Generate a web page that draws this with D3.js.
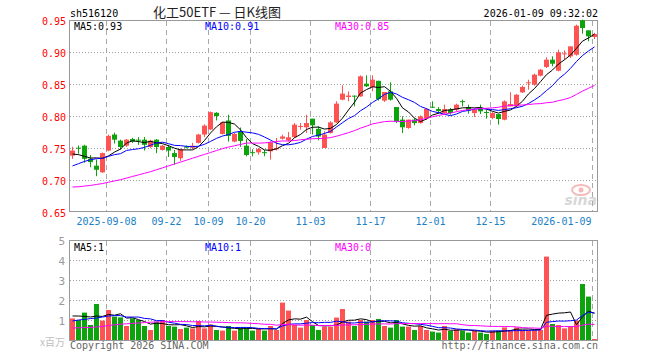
<!DOCTYPE html>
<html>
<head>
<meta charset="utf-8">
<script src="https://cdn.jsdelivr.net/npm/d3@7"></script>
<style>
  body { margin: 0; background: #fff; }
  text { font-family: "DejaVu Sans Mono", monospace; font-size: 10px; }
</style>
</head>
<body>
<div id="wrapper"></div>
<script>
// trading days shown
const dates = [
  "2025-08-29",
  "2025-09-01","2025-09-02","2025-09-03","2025-09-04","2025-09-05",
  "2025-09-08","2025-09-09","2025-09-10","2025-09-11","2025-09-12",
  "2025-09-15","2025-09-16","2025-09-17","2025-09-18","2025-09-19",
  "2025-09-22","2025-09-23","2025-09-24","2025-09-25","2025-09-26",
  "2025-09-29","2025-09-30",
  "2025-10-09","2025-10-10",
  "2025-10-13","2025-10-14","2025-10-15","2025-10-16","2025-10-17",
  "2025-10-20","2025-10-21","2025-10-22","2025-10-23","2025-10-24",
  "2025-10-27","2025-10-28","2025-10-29","2025-10-30","2025-10-31",
  "2025-11-03","2025-11-04","2025-11-05","2025-11-06","2025-11-07",
  "2025-11-10","2025-11-11","2025-11-12","2025-11-13","2025-11-14",
  "2025-11-17","2025-11-18","2025-11-19","2025-11-20","2025-11-21",
  "2025-11-24","2025-11-25","2025-11-26","2025-11-27","2025-11-28",
  "2025-12-01","2025-12-02","2025-12-03","2025-12-04","2025-12-05",
  "2025-12-08","2025-12-09","2025-12-10","2025-12-11","2025-12-12",
  "2025-12-15","2025-12-16","2025-12-17","2025-12-18","2025-12-19",
  "2025-12-22","2025-12-23","2025-12-24","2025-12-25","2025-12-26",
  "2025-12-29","2025-12-30","2025-12-31",
  "2026-01-05","2026-01-06","2026-01-07","2026-01-08","2026-01-09"
]

const opens = [
  0.738,0.7505,0.7536,0.7333,0.7224,0.712,0.746,0.771,0.7615,0.7536,
  0.764,0.763,0.763,0.7516,0.763,0.747,0.7516,0.742,0.734,0.752,
  0.7505,0.758,0.771,0.779,0.805,0.772,0.793,0.760,0.776,0.7536,
  0.7435,0.7432,0.7435,0.7448,0.748,0.7646,0.762,0.767,0.7835,0.7823,
  0.7958,0.780,0.750,0.7734,0.790,0.8255,0.8297,0.8318,0.8307,0.8505,
  0.8453,0.855,0.824,0.8385,0.814,0.7943,0.7812,0.7943,0.789,0.7969,
  0.8145,0.8109,0.8046,0.8099,0.8099,0.8232,0.814,0.8046,0.8114,0.8063,
  0.7969,0.803,0.7942,0.815,0.815,0.8369,0.8516,0.849,0.863,0.8766,
  0.888,0.8708,0.897,0.8932,0.8958,0.9495,0.9338,0.9234
]
const highs = [
  0.752,0.754,0.755,0.739,0.732,0.743,0.771,0.774,0.763,0.764,
  0.766,0.767,0.767,0.763,0.764,0.755,0.755,0.747,0.749,0.754,
  0.758,0.772,0.787,0.807,0.806,0.791,0.802,0.774,0.782,0.764,
  0.748,0.750,0.747,0.7604,0.7656,0.7708,0.775,0.789,0.789,0.802,
  0.7958,0.7838,0.776,0.7917,0.823,0.848,0.8385,0.8318,0.8635,0.8635,
  0.8635,0.855,0.8375,0.8526,0.814,0.7995,0.7943,0.7964,0.801,0.8125,
  0.823,0.814,0.8177,0.8125,0.8193,0.8255,0.8177,0.8115,0.8177,0.8099,
  0.806,0.803,0.8244,0.837,0.8343,0.8474,0.8567,0.866,0.8734,0.8917,
  0.8932,0.9036,0.9026,0.9088,0.9427,0.9505,0.9338,0.9297
]
const lows = [
  0.733,0.741,0.727,0.720,0.706,0.711,0.745,0.757,0.747,0.7516,
  0.758,0.755,0.746,0.750,0.742,0.746,0.736,0.724,0.730,0.7495,
  0.748,0.757,0.767,0.778,0.793,0.771,0.760,0.759,0.752,0.737,
  0.737,0.7396,0.737,0.7318,0.746,0.763,0.760,0.7656,0.7786,0.7734,
  0.771,0.762,0.750,0.7724,0.789,0.8245,0.823,0.815,0.8297,0.8453,
  0.8385,0.824,0.822,0.824,0.789,0.7734,0.780,0.7854,0.788,0.7943,
  0.8125,0.8036,0.8036,0.802,0.8073,0.815,0.8036,0.7984,0.803,0.7958,
  0.795,0.7865,0.7932,0.815,0.815,0.8359,0.8411,0.8474,0.862,0.875,
  0.8776,0.8698,0.888,0.8906,0.8943,0.9286,0.9167,0.9203
]
const closes = [
  0.746,0.750,0.733,0.728,0.716,0.742,0.769,0.763,0.7516,0.763,
  0.760,0.7625,0.755,0.7615,0.7516,0.7536,0.746,0.736,0.748,0.7515,
  0.7536,0.771,0.785,0.806,0.800,0.790,0.769,0.772,0.761,0.739,
  0.743,0.7484,0.743,0.7588,0.750,0.768,0.7667,0.7865,0.7845,0.789,
  0.7854,0.768,0.771,0.790,0.8193,0.835,0.832,0.831,0.862,0.8464,
  0.8568,0.8265,0.8375,0.8255,0.7917,0.7823,0.7943,0.789,0.7995,0.811,
  0.814,0.8078,0.8109,0.8046,0.8177,0.8228,0.8088,0.8099,0.8073,0.8058,
  0.8046,0.7953,0.8229,0.8187,0.8333,0.8453,0.8526,0.8646,0.8724,0.888,
  0.8817,0.8995,0.8979,0.9088,0.9411,0.9375,0.9245,0.9281
]
// volume, millions
const volumes = [
  1.08,1.0,1.37,0.75,1.8,0.97,1.5,1.17,1.13,0.7,
  1.08,1.0,0.7,0.5,0.92,1.0,0.7,0.67,0.55,0.62,
  0.58,0.95,0.58,0.78,0.5,0.47,0.7,0.47,0.63,0.63,
  0.47,0.58,0.47,0.7,0.5,1.87,1.47,0.75,0.62,1.0,
  0.75,0.5,0.67,0.67,1.12,1.55,0.92,0.7,1.0,0.92,
  1.0,1.05,0.7,0.62,1.0,0.67,0.67,0.5,0.7,0.5,
  0.42,0.37,0.7,0.45,0.53,0.47,0.37,0.47,0.37,0.3,
  0.47,0.47,0.63,0.5,0.63,0.5,0.5,0.5,0.5,4.17,
  0.8,0.75,0.58,0.7,0.97,2.8,2.17,0.05
]

// moving-average values before enough days are on screen
const ma5Head = [0.7406,0.7396,0.737,0.7343]
const ma10Head = [0.722,0.7255,0.729,0.7317,0.7333,0.734,0.737,0.7396,0.7411]
const ma30Head = [
  0.689,0.6895,0.6905,0.6915,0.693,0.6945,0.6965,0.6985,0.7005,0.703,
  0.7055,0.708,0.7105,0.713,0.716,0.719,0.722,0.725,0.728,0.731,
  0.734,0.737,0.740,0.743,0.746,0.749,0.7515,0.7535,0.7555
]
const volMa5Head = [1.2,1.2,1.18,1.15]
const volMa10Head = [0.95,1.0,1.03,1.07,1.1,1.15,1.2,1.22,1.22]
const volMa30Head = [
  0.6,0.61,0.62,0.63,0.65,0.68,0.72,0.76,0.79,0.81,
  0.83,0.85,0.87,0.89,0.9,0.91,0.92,0.92,0.92,0.92,
  0.91,0.91,0.9,0.9,0.89,0.88,0.87,0.86,0.86
]

const priceTicks = [0.65,0.70,0.75,0.80,0.85,0.90,0.95]
const volTicks = [1,2,3,4,5]
const tickDates = ["2025-09-08","2025-09-22","2025-10-09","2025-10-20","2025-11-03","2025-11-17","2025-12-01","2025-12-15","2026-01-09"]
const tickLabels = ["2025-09-08","09-22","10-09","10-20","11-03","11-17","12-01","12-15","2026-01-09"]

async function drawChart() {

    // 1. Access data
    const n = dates.length
    const idx = d3.range(n)

    function movingAverage(values, len, head) {
        return values.map((v, i) => i < len - 1 ? head[i] : d3.mean(values.slice(i - len + 1, i + 1)))
    }
    const ma5 = movingAverage(closes, 5, ma5Head)
    const ma10 = movingAverage(closes, 10, ma10Head)
    const ma30 = movingAverage(closes, 30, ma30Head)
    const vma5 = movingAverage(volumes, 5, volMa5Head)
    const vma10 = movingAverage(volumes, 10, volMa10Head)
    const vma30 = movingAverage(volumes, 30, volMa30Head)

    const red = "#ff5252"
    const green = "#0ca30c"
    const maColors = ["#000000", "#0000ff", "#ff00ff"]

    // 2. Dimensions
    const dimensions = {
        width: 660,
        height: 360,
        left: 70,
        right: 598,
        priceTop: 20,
        priceBottom: 211,
        volTop: 240,
        volBottom: 340,
    }

    // 3. Draw canvas
    const wrapper = d3.select("#wrapper")
        .append("svg")
        .attr("width", dimensions.width)
        .attr("height", dimensions.height)

    // 4. Create scales
    const xScale = d3.scaleBand()
        .domain(idx)
        .range([dimensions.left - 0.5, dimensions.right - 0.5])
    const step = xScale.step()
    const center = i => xScale(i) + step / 2
    const bodyW = 5

    const yScale = d3.scaleLinear()
        .domain([0.65, 0.95])
        .range([212, 20])

    const vScale = d3.scaleLinear()
        .domain([0, 5])
        .range([dimensions.volBottom, dimensions.volTop])

    // 5. Grid and frames
    const grid = wrapper.append("g")

    grid.selectAll(".hgrid")
        .data(priceTicks.slice(1, -1))
        .join("line")
        .attr("x1", dimensions.left)
        .attr("x2", dimensions.right)
        .attr("y1", d => Math.round(yScale(d)) + 0.5)
        .attr("y2", d => Math.round(yScale(d)) + 0.5)
        .attr("stroke", "#a0a0a0")
        .attr("stroke-dasharray", "1,2")

    grid.selectAll(".vgrid-h")
        .data(volTicks.slice(0, -1))
        .join("line")
        .attr("x1", dimensions.left)
        .attr("x2", dimensions.right)
        .attr("y1", d => Math.round(vScale(d)) + 0.5)
        .attr("y2", d => Math.round(vScale(d)) + 0.5)
        .attr("stroke", "#a0a0a0")
        .attr("stroke-dasharray", "1,2")

    const tickIdx = tickDates.map(d => dates.indexOf(d))
    const gridX = i => xScale(i) + 1

    ;[[dimensions.priceTop, dimensions.priceBottom], [dimensions.volTop, dimensions.volBottom]].forEach(([t, b]) => {
        grid.selectAll(null)
            .data(tickIdx)
            .join("line")
            .attr("x1", gridX)
            .attr("x2", gridX)
            .attr("y1", t + 1)
            .attr("y2", b)
            .attr("stroke", "#a8a8a8")
            .attr("stroke-dasharray", "5,4")
    })

    wrapper.append("rect")
        .attr("x", dimensions.left - 0.5)
        .attr("y", dimensions.priceTop + 0.5)
        .attr("width", dimensions.right - dimensions.left)
        .attr("height", dimensions.priceBottom - dimensions.priceTop)
        .attr("fill", "none")
        .attr("stroke", "#999")

    wrapper.append("rect")
        .attr("x", dimensions.left - 0.5)
        .attr("y", dimensions.volTop + 0.5)
        .attr("width", dimensions.right - dimensions.left)
        .attr("height", dimensions.volBottom - dimensions.volTop)
        .attr("fill", "none")
        .attr("stroke", "#999")

    // sina watermark
    const logo = wrapper.append("g").attr("opacity", 0.55)
    logo.append("ellipse")
        .attr("cx", 581).attr("cy", 190).attr("rx", 9).attr("ry", 5)
        .attr("fill", "none").attr("stroke", "#f08080").attr("stroke-width", 2)
    logo.append("circle")
        .attr("cx", 581).attr("cy", 190).attr("r", 2.5)
        .attr("fill", "#f08080")
    logo.append("text")
        .attr("x", 597).attr("y", 205)
        .attr("text-anchor", "end")
        .style("font-family", "DejaVu Sans")
        .style("font-size", "14px")
        .style("font-weight", "bold")
        .style("font-style", "italic")
        .attr("fill", "#b8b8b8")
        .text("sina")

    // 6. Draw candles
    const candles = wrapper.append("g")
    const colorOf = i => closes[i] >= opens[i] ? red : green

    candles.selectAll(".wick")
        .data(idx)
        .join("line")
        .attr("x1", i => Math.floor(center(i)) + 0.5)
        .attr("x2", i => Math.floor(center(i)) + 0.5)
        .attr("y1", i => yScale(highs[i]))
        .attr("y2", i => yScale(lows[i]))
        .attr("stroke", colorOf)

    candles.selectAll(".body")
        .data(idx)
        .join("rect")
        .attr("x", i => Math.floor(center(i)) + 0.5 - bodyW / 2)
        .attr("width", bodyW)
        .attr("y", i => yScale(Math.max(opens[i], closes[i])))
        .attr("height", i => Math.max(1, Math.abs(yScale(opens[i]) - yScale(closes[i]))))
        .attr("fill", colorOf)

    // volume bars
    wrapper.append("g")
        .selectAll("rect")
        .data(idx)
        .join("rect")
        .attr("x", i => Math.floor(center(i)) + 0.5 - bodyW / 2)
        .attr("width", bodyW)
        .attr("y", i => vScale(volumes[i]))
        .attr("height", i => dimensions.volBottom - vScale(volumes[i]))
        .attr("fill", colorOf)

    // moving averages
    const priceLine = d3.line().x((d, i) => center(i)).y(d => yScale(d))
    const volLine = d3.line().x((d, i) => center(i)).y(d => vScale(d))

    ;[ma5, ma10, ma30].forEach((s, k) => {
        wrapper.append("path")
            .attr("d", priceLine(s))
            .attr("fill", "none")
            .attr("stroke", maColors[k])
            .attr("stroke-width", 1)
    })
    ;[vma5, vma10, vma30].forEach((s, k) => {
        wrapper.append("path")
            .attr("d", volLine(s))
            .attr("fill", "none")
            .attr("stroke", maColors[k])
            .attr("stroke-width", 1)
    })

    // 7. Axes and texts
    const yAxis = wrapper.append("g")
        .attr("transform", `translate(${dimensions.left},0)`)
        .call(d3.axisLeft(yScale).tickValues(priceTicks).tickFormat(d3.format(".2f")).tickSize(0).tickPadding(4))
    yAxis.select(".domain").remove()
    yAxis.selectAll("text")
        .attr("fill", "#ff0000")
        .style("font-family", "DejaVu Sans Mono")
        .style("font-size", "10px")
        .attr("dy", "0.45em")

    const vAxis = wrapper.append("g")
        .attr("transform", `translate(${dimensions.left},0)`)
        .call(d3.axisLeft(vScale).tickValues(volTicks).tickFormat(d3.format("d")).tickSize(0).tickPadding(5))
    vAxis.select(".domain").remove()
    vAxis.selectAll("text")
        .attr("fill", "#999")
        .style("font-family", "DejaVu Sans Mono")
        .style("font-size", "11px")
        .attr("dy", "0.4em")

    wrapper.selectAll(".xlabel")
        .data(tickIdx)
        .join("text")
        .attr("x", (d, k) => k === tickIdx.length - 1 ? gridX(d) - 1 : gridX(d))
        .attr("y", 225)
        .attr("text-anchor", (d, k) => k === tickIdx.length - 1 ? "end" : "middle")
        .attr("fill", "#1a80c8")
        .text((d, k) => tickLabels[k])

    wrapper.append("text")
        .attr("x", dimensions.left).attr("y", 17)
        .attr("fill", "#000")
        .text("sh516120")

    wrapper.append("text")
        .attr("x", 217).attr("y", 17)
        .attr("text-anchor", "middle")
        .attr("fill", "#222")
        .style("font-family", "'Noto Sans CJK SC', sans-serif")
        .style("font-size", "13px")
        .text("化工50ETF — 日K线图")

    wrapper.append("text")
        .attr("x", dimensions.right).attr("y", 17)
        .attr("text-anchor", "end")
        .attr("fill", "#000")
        .text("2026-01-09 09:32:02")

    const last = n - 1
    const maLabelX = [74, 205, 335]
    const maNames = ["MA5", "MA10", "MA30"]
    ;[ma5, ma10, ma30].forEach((s, k) => {
        wrapper.append("text")
            .attr("x", maLabelX[k]).attr("y", 30)
            .attr("fill", maColors[k])
            .text(`${maNames[k]}:${s[last].toFixed(2)}`)
    })
    ;[vma5, vma10, vma30].forEach((s, k) => {
        wrapper.append("text")
            .attr("x", maLabelX[k]).attr("y", 251)
            .attr("fill", maColors[k])
            .text(`${maNames[k]}:${Math.floor(s[last])}`)
    })

    wrapper.append("text")
        .attr("x", 65).attr("y", 346)
        .attr("text-anchor", "end")
        .attr("fill", "#c0c0c0")
        .style("font-family", "'Noto Sans CJK SC', sans-serif")
        .style("font-size", "10px")
        .text("x百万")

    wrapper.append("text")
        .attr("x", dimensions.left).attr("y", 349)
        .attr("fill", "#666")
        .text("Copyright 2026 SINA.COM")

    wrapper.append("text")
        .attr("x", dimensions.right).attr("y", 349)
        .attr("text-anchor", "end")
        .attr("fill", "#666")
        .text("http://finance.sina.com.cn")
}
drawChart()
</script>
</body>
</html>
